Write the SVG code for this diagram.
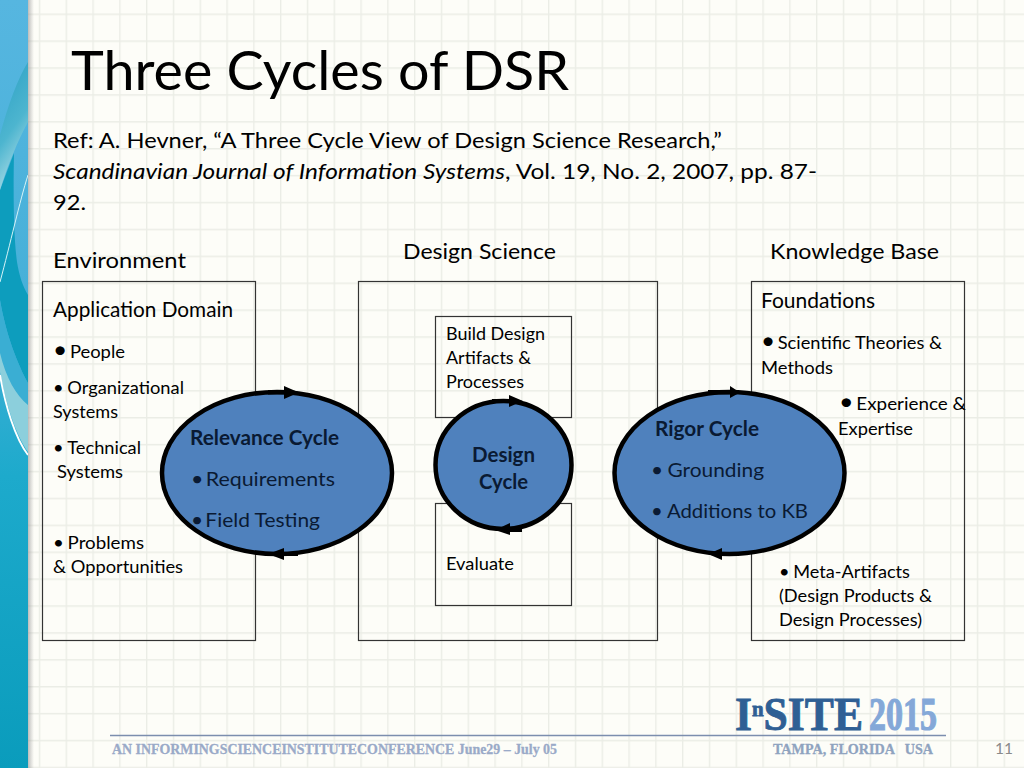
<svg xmlns="http://www.w3.org/2000/svg" width="1024" height="768" viewBox="0 0 1024 768">
<style>
text{font-family:"Lato","Open Sans",sans-serif;fill:#000}
.t{font-size:20.5px}
.s{font-size:18px}
.h{font-size:22px}
.b{fill:none;stroke:#333;stroke-width:1.2}
.c{fill:#4f81bd;stroke:#000;stroke-width:4.5}
.w{font-size:20px;fill:#0a1a33}
.wb{font-size:20px;font-weight:700;fill:#0a1a33}
.a{fill:#000}
.ft{font-family:"Liberation Serif",serif;font-weight:700;font-size:15px;fill:#9aaac8}
.grid{stroke:#ebede6;stroke-width:1.4}
.bl{font-size:24px;letter-spacing:-2px}
.tb{letter-spacing:-.5px}
.tc{letter-spacing:-1.5px}
</style>
<defs>
<pattern id="g" width="26.8" height="26.9" patternUnits="userSpaceOnUse" x="12" y="13.5">
<path class="grid" d="M0.7 0V27M0 0.7H27" fill="none"/>
</pattern>
<linearGradient id="side" x1="0" y1="0" x2="0" y2="1">
<stop offset="0" stop-color="#56b6e0"/><stop offset="0.4" stop-color="#46b0d8"/><stop offset="0.62" stop-color="#1daacc"/><stop offset="1" stop-color="#0a9cbc"/>
</linearGradient>
<linearGradient id="sliver" x1="0" y1="0" x2="0.3" y2="1">
<stop offset="0" stop-color="#2a9fc4"/><stop offset="0.6" stop-color="#4db5cf"/><stop offset="1" stop-color="#a8dbe6"/>
</linearGradient>
<linearGradient id="sh" x1="0" y1="0" x2="1" y2="0">
<stop offset="0" stop-color="#888" stop-opacity="0.55"/><stop offset="1" stop-color="#999" stop-opacity="0"/>
</linearGradient>
</defs>
<g id="background">
<rect width="1024" height="768" fill="#fdfdf8"/>
<rect width="1024" height="768" fill="url(#g)"/>
<rect x="0" y="0" width="28" height="768" fill="url(#side)"/>
<path d="M0 190L14 153C13 200 14 240 17 262C19 275 23 287 28 295V383C18 365 6 335 0 300Z" fill="#0d9dbd"/>
<path d="M0 300C6 335 18 365 28 383V405C16 395 6 378 0 353Z" fill="#3aaed3"/>
<path d="M0 353C6 378 16 395 28 405V452C16 435 6 405 0 372Z" fill="#8ccfdc"/>
<path d="M28 62C18 78 8 105 0 135V190C8 165 18 140 28 122Z" fill="url(#sliver)"/>
<path d="M0 375C5 405 15 438 28 455" fill="none" stroke="#fff" stroke-width="1.800"/>
<path d="M28 175C20 200 10 245 0 282" fill="none" stroke="#d5f3f7" stroke-width="1"/>
<rect x="28" y="0" width="6" height="768" fill="url(#sh)"/>
</g>
<g id="title">
<text x="71" y="90" font-size="55" textLength="498" lengthAdjust="spacingAndGlyphs">Three Cycles of DSR</text>
</g>
<g id="reference">
<text class="h" x="53" y="148" textLength="669" lengthAdjust="spacingAndGlyphs">Ref: A. Hevner, “A Three Cycle View of Design Science Research,”</text>
<text class="h" x="53" y="179" textLength="764" lengthAdjust="spacingAndGlyphs"><tspan font-style="italic">Scandinavian Journal of Information Systems</tspan>, Vol. 19, No. 2, 2007, pp. 87-</text>
<text class="h" x="53" y="210" textLength="33" lengthAdjust="spacingAndGlyphs">92.</text>
</g>
<g id="heading-environment"><text class="h" x="53" y="268" textLength="133" lengthAdjust="spacingAndGlyphs">Environment</text></g>
<g id="heading-design-science"><text class="h" x="403" y="259" textLength="153" lengthAdjust="spacingAndGlyphs">Design Science</text></g>
<g id="heading-knowledge-base"><text class="h" x="770" y="259" textLength="169" lengthAdjust="spacingAndGlyphs">Knowledge Base</text></g>

<g id="environment-box">
<rect class="b" x="42.500" y="281.500" width="213" height="359"/>
<text class="t" x="53" y="317" textLength="180" lengthAdjust="spacingAndGlyphs">Application Domain</text>
<text class="s" x="53" y="358" textLength="72" lengthAdjust="spacingAndGlyphs"><tspan class="bl">•</tspan> People</text>
<text class="s" x="53" y="394" textLength="131" lengthAdjust="spacingAndGlyphs"><tspan class="tb">• </tspan>Organizational</text>
<text class="s" x="53" y="418" textLength="65" lengthAdjust="spacingAndGlyphs">Systems</text>
<text class="s" x="53" y="454" textLength="88" lengthAdjust="spacingAndGlyphs"><tspan class="tb">• </tspan>Technical</text>
<text class="s" x="57" y="478" textLength="66" lengthAdjust="spacingAndGlyphs">Systems</text>
<text class="s" x="53" y="549" textLength="91" lengthAdjust="spacingAndGlyphs"><tspan class="tb">• </tspan>Problems</text>
<text class="s" x="53" y="573" textLength="130" lengthAdjust="spacingAndGlyphs">&amp; Opportunities</text>
</g>
<g id="design-science-box">
<rect class="b" x="358.500" y="281.500" width="299" height="359"/>
</g>
<g id="build-box">
<rect class="b" x="435.500" y="316.500" width="136" height="101"/>
<text class="s" x="446" y="340" textLength="99" lengthAdjust="spacingAndGlyphs">Build Design</text>
<text class="s" x="446" y="364" textLength="85" lengthAdjust="spacingAndGlyphs">Artifacts &amp;</text>
<text class="s" x="446" y="388" textLength="78" lengthAdjust="spacingAndGlyphs">Processes</text>
</g>
<g id="evaluate-box">
<rect class="b" x="435.500" y="503.500" width="136" height="102"/>
<text class="s" x="446" y="570" textLength="68" lengthAdjust="spacingAndGlyphs">Evaluate</text>
</g>
<g id="knowledge-box">
<rect class="b" x="751.500" y="281.500" width="213" height="359"/>
<text class="t" x="761" y="308" textLength="114" lengthAdjust="spacingAndGlyphs">Foundations</text>
<text class="s" x="761" y="349" textLength="181" lengthAdjust="spacingAndGlyphs"><tspan class="bl">•</tspan> Scientific Theories &amp;</text>
<text class="s" x="761" y="374" textLength="72" lengthAdjust="spacingAndGlyphs">Methods</text>
<text class="s" x="839" y="410" textLength="127" lengthAdjust="spacingAndGlyphs"><tspan class="bl">•</tspan> Experience  &amp;</text>
<text class="s" x="838" y="435" textLength="75" lengthAdjust="spacingAndGlyphs">Expertise</text>
<text class="s" x="779" y="578" textLength="131" lengthAdjust="spacingAndGlyphs"><tspan class="tb">• </tspan>Meta-Artifacts</text>
<text class="s" x="779" y="602" textLength="153" lengthAdjust="spacingAndGlyphs">(Design Products &amp;</text>
<text class="s" x="779" y="626" textLength="143" lengthAdjust="spacingAndGlyphs">Design Processes)</text>
</g>
<g id="relevance-cycle">
<ellipse class="c" cx="277" cy="473" rx="115" ry="81"/>
<text class="wb" x="190" y="445" textLength="149" lengthAdjust="spacingAndGlyphs">Relevance Cycle</text>
<text class="w" x="191" y="486" textLength="144" lengthAdjust="spacingAndGlyphs"><tspan class="tc">• </tspan>Requirements</text>
<text class="w" x="191" y="527" textLength="129" lengthAdjust="spacingAndGlyphs"><tspan class="tc">• </tspan>Field Testing</text>
</g>
<g id="design-cycle">
<ellipse class="c" cx="503.500" cy="465" rx="68" ry="64"/>
<text class="wb" x="503.500" y="462" text-anchor="middle" textLength="63" lengthAdjust="spacingAndGlyphs">Design</text>
<text class="wb" x="503.500" y="489" text-anchor="middle" textLength="49" lengthAdjust="spacingAndGlyphs">Cycle</text>
</g>
<g id="rigor-cycle">
<ellipse class="c" cx="729.500" cy="473" rx="115" ry="81"/>
<text class="wb" x="655" y="436" textLength="104" lengthAdjust="spacingAndGlyphs">Rigor Cycle</text>
<text class="w" x="651" y="477" textLength="113" lengthAdjust="spacingAndGlyphs"><tspan class="tb">• </tspan>Grounding</text>
<text class="w" x="651" y="518" textLength="157" lengthAdjust="spacingAndGlyphs"><tspan class="tb">• </tspan>Additions to KB</text>
</g>
<g id="connectors">
<path class="a" d="M268 390L284 390L284 386L299 392.500L284 399L284 394.500L268 394.500Z"/>
<path class="a" d="M298 552L284 552L284 548L268 554L284 560L284 556L298 556Z"/>
<path class="a" d="M492 399L509 399L509 395L523 401L509 407L509 403L492 403Z"/>
<path class="a" d="M522 528L510 528L510 523L495 530L510 535L510 532L522 532Z"/>
<path class="a" d="M708 390L730 390L730 386L740 392.500L730 398L730 394.500L708 394.500Z"/>
<path class="a" d="M735 552L722 552L722 548L708 554L722 560L722 556L735 556Z"/>
</g>
<g id="footer">
<path d="M110 735.500H946" stroke="#7c8eae" stroke-width="1.600" fill="none"/>
<text class="ft" x="112" y="754" textLength="445" lengthAdjust="spacingAndGlyphs" style="stroke:#9aaac8;stroke-width:.3">AN INFORMINGSCIENCEINSTITUTECONFERENCE June29 – July 05</text>
<text class="ft" x="773" y="754" textLength="160" lengthAdjust="spacingAndGlyphs" xml:space="preserve" style="fill:#8fa3bf;stroke:#8fa3bf;stroke-width:.3">TAMPA, FLORIDA   USA</text>
<text x="735" y="730" font-size="46" textLength="128" lengthAdjust="spacingAndGlyphs" style="font-family:'Liberation Serif',serif;font-weight:700;fill:#2f5f94;stroke:#2f5f94;stroke-width:.8"><tspan>I</tspan><tspan font-size="22" dy="-14">n</tspan><tspan dy="14">SITE</tspan></text>
<text x="869" y="730" font-size="46" textLength="68" lengthAdjust="spacingAndGlyphs" style="font-family:'Liberation Serif',serif;font-weight:700;fill:#84a8d8;stroke:#84a8d8;stroke-width:1.200">2015</text>
<text x="995" y="754" font-size="14.500" textLength="18" lengthAdjust="spacingAndGlyphs" style="fill:#8a8a8a">11</text>
</g>
</svg>
